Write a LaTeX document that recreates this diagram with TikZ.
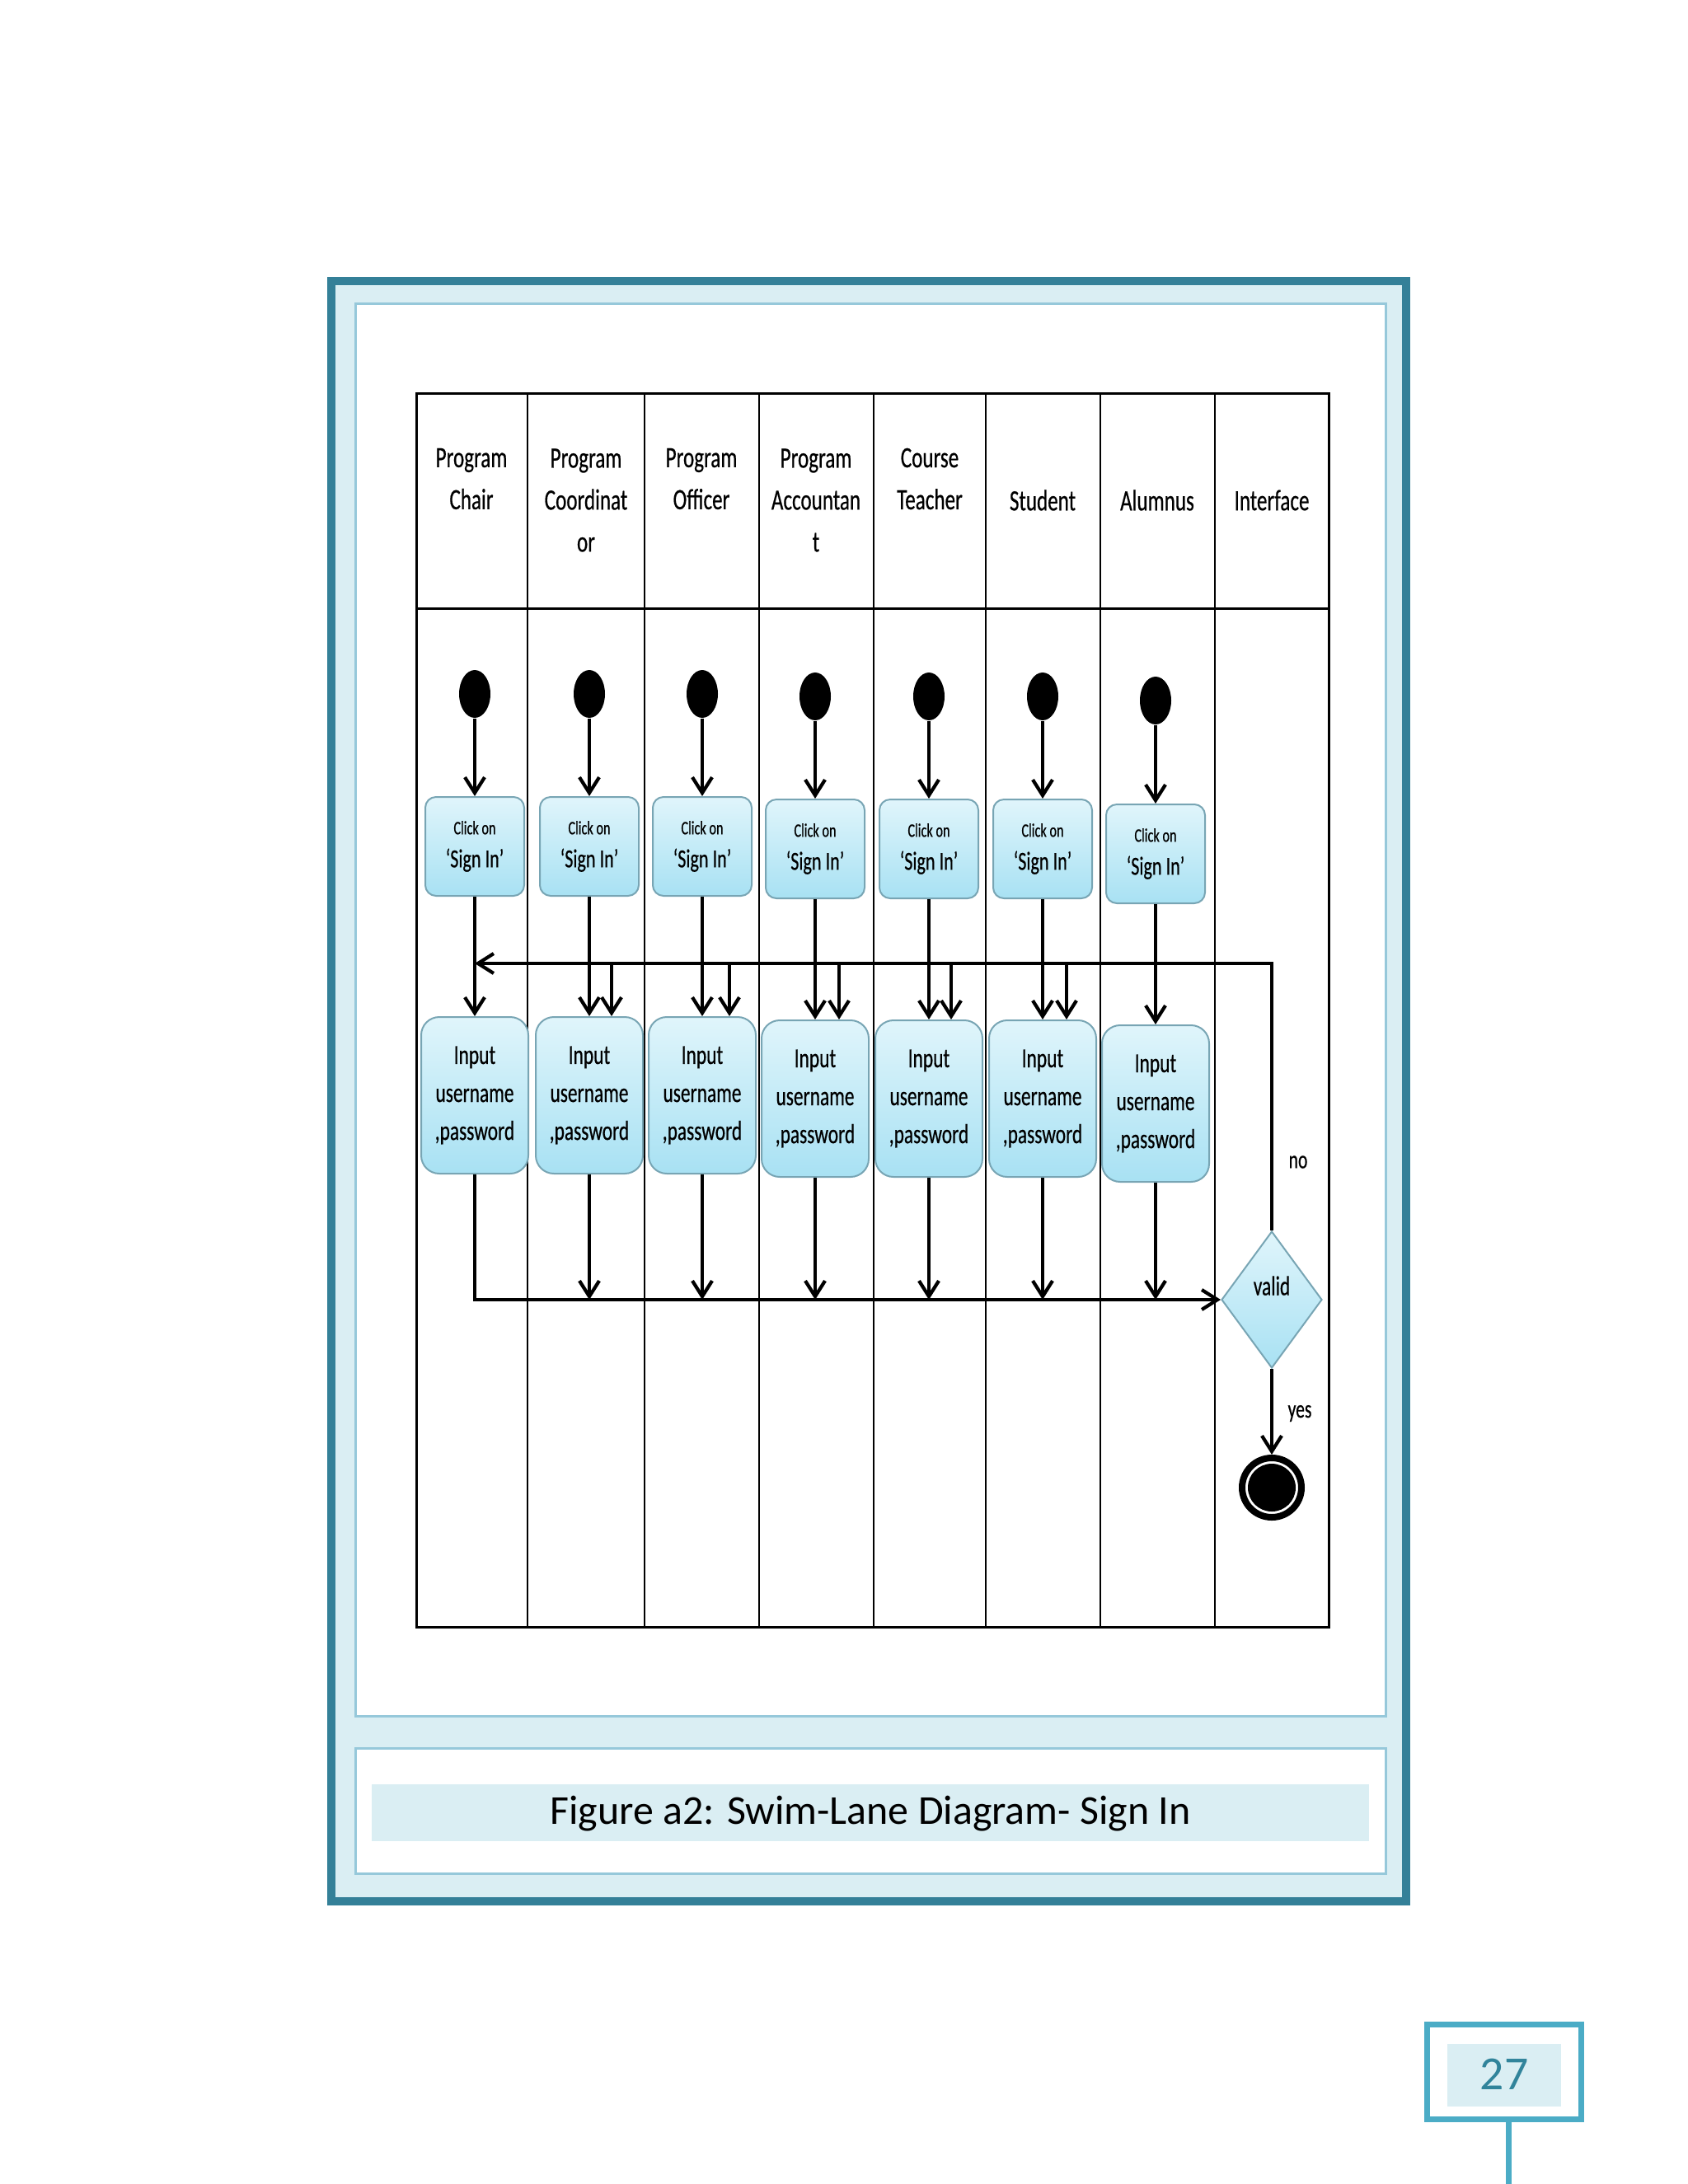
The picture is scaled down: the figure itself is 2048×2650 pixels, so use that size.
\documentclass[tikz,border=0pt]{standalone}
\usepackage{fontspec}
\setmainfont{Carlito}
\newfontfamily\lanefont[FakeStretch=0.7,FakeBold=0.5]{Carlito}
\usepackage{tikz}
\usetikzlibrary{arrows.meta, shapes.geometric}

\definecolor{frameteal}{RGB}{52,128,152}
\definecolor{paleblue}{RGB}{218,238,243}
\definecolor{panelline}{RGB}{150,200,218}
\definecolor{numblue}{RGB}{75,172,198}
\definecolor{numtext}{RGB}{49,132,155}
\definecolor{boxtop}{RGB}{224,245,251}
\definecolor{boxbottom}{RGB}{168,225,243}
\definecolor{boxline}{RGB}{120,165,180}

\begin{document}
\begin{tikzpicture}[
    x=0.1mm, y=-0.1mm,
    lane/.style={font=\lanefont\fontsize{10.2}{14.5}\selectfont,align=center,inner sep=0},
    start/.style={ellipse,fill=black,minimum width=3.8mm,minimum height=5.8mm,inner sep=0},
    click/.style={rectangle,rounded corners=1.3mm,draw=boxline,line width=0.2mm,top color=boxtop,bottom color=boxbottom,minimum width=12mm,minimum height=12mm,align=center,inner sep=0,font=\lanefont\fontsize{9}{11.4}\selectfont},
    inputbox/.style={rectangle,rounded corners=2.2mm,draw=boxline,line width=0.2mm,top color=boxtop,bottom color=boxbottom,minimum width=13mm,minimum height=19mm,align=center,inner sep=0,font=\lanefont\fontsize{9.5}{13.1}\selectfont},
    decision/.style={diamond,draw=boxline,line width=0.2mm,top color=boxtop,bottom color=boxbottom,minimum width=12.2mm,minimum height=16.6mm,inner sep=0,text height=2.2mm,text depth=3.3mm,font=\lanefont\fontsize{9.5}{12}\selectfont},
    final/.style={circle,draw=black,line width=0.8mm,fill=white,minimum size=7.2mm,inner sep=0,path picture={\fill[black] (path picture bounding box.center) circle (2.9mm);}},
    lbl/.style={font=\lanefont\fontsize{8.8}{10}\selectfont,inner sep=0},
    arrow/.style={-{Straight Barb[length=1.9mm,width=2.4mm]}, line width=0.42mm}
]

\useasboundingbox (0,0) rectangle (2048,2650);
\fill[white] (0,0) rectangle (2048,2650);

% page frame and caption
\draw[frameteal, line width=1mm, fill=paleblue] (402,341) rectangle (1706,2307);
\draw[panelline, line width=0.3mm, fill=white] (431,368) rectangle (1681,2082);
\draw[panelline, line width=0.3mm, fill=white] (431,2121) rectangle (1681,2273);
\fill[paleblue] (451,2165) rectangle (1661,2234);
\node[font=\fontsize{14.2}{17}\selectfont, anchor=base] (caption) at (1056,2213) {Figure a2: Swim-Lane Diagram- Sign In};

% page number
\fill[paleblue] (1756,2480) rectangle (1894,2556);
\draw[numblue, line width=0.7mm] (1731,2456) rectangle (1918,2571);
\draw[numblue, line width=0.7mm] (1830,2571) -- (1830,2650);
\node[font=\fontsize{16.4}{19}\selectfont, text=numtext] (pageNum) at (1825,2517) {27};

% lanes
\draw[line width=0.3mm] (505,477) rectangle (1612,1974);
\draw[line width=0.3mm] (505,738) -- (1612,738);
\draw[line width=0.25mm] (640,477) -- (640,1974) (782,477) -- (782,1974) (921,477) -- (921,1974)
    (1060,477) -- (1060,1974) (1196,477) -- (1196,1974) (1335,477) -- (1335,1974) (1474,477) -- (1474,1974);

\node[lane] (hdChair) at (572,581) {Program\\Chair};
\node[lane] (hdCoord) at (711,607) {Program\\Coordinat\\or};
\node[lane] (hdOfficer) at (851,581) {Program\\Officer};
\node[lane] (hdAccount) at (990,607) {Program\\Accountan\\t};
\node[lane] (hdTeacher) at (1128,581) {Course\\Teacher};
\node[lane] (hdStudent) at (1265,607) {Student};
\node[lane] (hdAlumnus) at (1404,607) {Alumnus};
\node[lane] (hdInterface) at (1543,607) {Interface};

% start nodes
\node[start] (startChair) at (576,842) {};
\node[start] (startCoord) at (715,842) {};
\node[start] (startOfficer) at (852,842) {};
\node[start] (startAccount) at (989,845) {};
\node[start] (startTeacher) at (1127,845) {};
\node[start] (startStudent) at (1265,845) {};
\node[start] (startAlumnus) at (1402,850) {};

% click on sign in
\node[click] (clickChair) at (576,1027) {{\fontsize{6.6}{11.4}\selectfont Click on}\\‘Sign In’};
\node[click] (clickCoord) at (715,1027) {{\fontsize{6.6}{11.4}\selectfont Click on}\\‘Sign In’};
\node[click] (clickOfficer) at (852,1027) {{\fontsize{6.6}{11.4}\selectfont Click on}\\‘Sign In’};
\node[click] (clickAccount) at (989,1030) {{\fontsize{6.6}{11.4}\selectfont Click on}\\‘Sign In’};
\node[click] (clickTeacher) at (1127,1030) {{\fontsize{6.6}{11.4}\selectfont Click on}\\‘Sign In’};
\node[click] (clickStudent) at (1265,1030) {{\fontsize{6.6}{11.4}\selectfont Click on}\\‘Sign In’};
\node[click] (clickAlumnus) at (1402,1036) {{\fontsize{6.6}{11.4}\selectfont Click on}\\‘Sign In’};

% input username, password
\node[inputbox] (inputChair) at (576,1329) {Input\\username\\,password};
\node[inputbox] (inputCoord) at (715,1329) {Input\\username\\,password};
\node[inputbox] (inputOfficer) at (852,1329) {Input\\username\\,password};
\node[inputbox] (inputAccount) at (989,1333) {Input\\username\\,password};
\node[inputbox] (inputTeacher) at (1127,1333) {Input\\username\\,password};
\node[inputbox] (inputStudent) at (1265,1333) {Input\\username\\,password};
\node[inputbox] (inputAlumnus) at (1402,1339) {Input\\username\\,password};

% interface
\node[decision] (valid) at (1543,1577) {valid};
\node[final] (final) at (1543,1805) {};
\node[lbl] (noLabel) at (1575,1410) {no};
\node[lbl] (yesLabel) at (1577,1715) {yes};
\coordinate (loopEnd) at (576,1169);

\draw[arrow] (startChair) -- (clickChair);
\draw[arrow] (startCoord) -- (clickCoord);
\draw[arrow] (startOfficer) -- (clickOfficer);
\draw[arrow] (startAccount) -- (clickAccount);
\draw[arrow] (startTeacher) -- (clickTeacher);
\draw[arrow] (startStudent) -- (clickStudent);
\draw[arrow] (startAlumnus) -- (clickAlumnus);

\draw[arrow] (clickChair) -- (inputChair);
\draw[arrow] (clickCoord) -- (inputCoord);
\draw[arrow] (clickOfficer) -- (inputOfficer);
\draw[arrow] (clickAccount) -- (inputAccount);
\draw[arrow] (clickTeacher) -- (inputTeacher);
\draw[arrow] (clickStudent) -- (inputStudent);
\draw[arrow] (clickAlumnus) -- (inputAlumnus);

% not valid: back to input
\draw[arrow] (valid.north) |- (loopEnd);
\draw[arrow] ([xshift=2.7mm]inputCoord.north |- loopEnd) -- ([xshift=2.7mm]inputCoord.north);
\draw[arrow] ([xshift=3.3mm]inputOfficer.north |- loopEnd) -- ([xshift=3.3mm]inputOfficer.north);
\draw[arrow] ([xshift=2.9mm]inputAccount.north |- loopEnd) -- ([xshift=2.9mm]inputAccount.north);
\draw[arrow] ([xshift=2.7mm]inputTeacher.north |- loopEnd) -- ([xshift=2.7mm]inputTeacher.north);
\draw[arrow] ([xshift=2.9mm]inputStudent.north |- loopEnd) -- ([xshift=2.9mm]inputStudent.north);

% to the check
\draw[arrow] (inputChair.south) |- (valid.west);
\draw[arrow] (inputCoord.south) -- (inputCoord.south |- valid.west);
\draw[arrow] (inputOfficer.south) -- (inputOfficer.south |- valid.west);
\draw[arrow] (inputAccount.south) -- (inputAccount.south |- valid.west);
\draw[arrow] (inputTeacher.south) -- (inputTeacher.south |- valid.west);
\draw[arrow] (inputStudent.south) -- (inputStudent.south |- valid.west);
\draw[arrow] (inputAlumnus.south) -- (inputAlumnus.south |- valid.west);
\draw[arrow] (valid.south) -- (final);

\end{tikzpicture}
\end{document}
